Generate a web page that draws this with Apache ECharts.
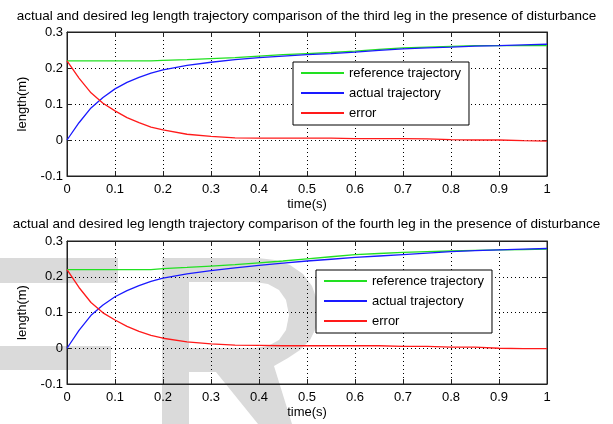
<!DOCTYPE html>
<html>
<head>
<meta charset="utf-8">
<script src="https://cdn.jsdelivr.net/npm/echarts@6/dist/echarts.min.js"></script>
<style>
  html, body { margin: 0; padding: 0; background: #fff; }
  #chart { width: 613px; height: 424px; }
</style>
</head>
<body>
<div id="chart"></div>
<script>
// Sample times (s)
const time = [0, 0.025, 0.05, 0.075, 0.1, 0.125, 0.15, 0.175, 0.2, 0.25, 0.3, 0.35, 0.4,
  0.45, 0.5, 0.55, 0.6, 0.65, 0.7, 0.75, 0.8, 0.85, 0.9, 0.95, 1.0];

// Third leg: reference, actual and error lengths (m)
const ref3 = [0.220, 0.220, 0.220, 0.220, 0.220, 0.220, 0.220, 0.220, 0.221, 0.223, 0.226, 0.229, 0.233,
  0.237, 0.240, 0.243, 0.247, 0.252, 0.256, 0.258, 0.260, 0.262, 0.262, 0.262, 0.262];
const act3 = [0.000, 0.048, 0.089, 0.118, 0.142, 0.160, 0.174, 0.186, 0.195, 0.207, 0.216, 0.223, 0.229,
  0.233, 0.237, 0.240, 0.244, 0.249, 0.253, 0.256, 0.258, 0.261, 0.262, 0.264, 0.266];
const err3 = [0.220, 0.172, 0.131, 0.102, 0.081, 0.062, 0.048, 0.036, 0.028, 0.016, 0.010, 0.006, 0.005,
  0.005, 0.005, 0.005, 0.004, 0.004, 0.004, 0.003, 0.001, 0.000, 0.000, -0.002, -0.003];

// Fourth leg: reference, actual and error lengths (m)
const ref4 = [0.220, 0.220, 0.220, 0.220, 0.220, 0.220, 0.220, 0.220, 0.223, 0.226, 0.230, 0.234, 0.239,
  0.244, 0.250, 0.256, 0.262, 0.265, 0.268, 0.270, 0.272, 0.274, 0.275, 0.276, 0.277];
const act4 = [0.000, 0.050, 0.092, 0.121, 0.144, 0.161, 0.175, 0.187, 0.196, 0.208, 0.217, 0.225, 0.232,
  0.238, 0.244, 0.249, 0.254, 0.258, 0.262, 0.266, 0.270, 0.273, 0.275, 0.277, 0.279];
const err4 = [0.220, 0.170, 0.128, 0.099, 0.079, 0.061, 0.047, 0.036, 0.028, 0.018, 0.012, 0.009, 0.008,
  0.007, 0.007, 0.007, 0.007, 0.007, 0.005, 0.005, 0.003, 0.003, 0.000, -0.001, -0.001];

// Tick labels
const xTicks = ['0', '0.1', '0.2', '0.3', '0.4', '0.5', '0.6', '0.7', '0.8', '0.9', '1'];
const yTicks = ['-0.1', '0', '0.1', '0.2', '0.3'];

const seriesNames = ['reference trajectory', 'actual trajectory', 'error'];
const seriesColors = ['#22e022', '#1a1aff', '#ff1a1a'];
const titles = [
  'actual and desired leg length trajectory comparison of the third leg in the presence of disturbance',
  'actual and desired leg length trajectory comparison of the fourth leg in the presence of disturbance'
];

const FONT = 'Liberation Sans';
const xMin = Number(xTicks[0]), xMax = Number(xTicks[xTicks.length - 1]);
const yMin = Number(yTicks[0]), yMax = Number(yTicks[yTicks.length - 1]);

const chart = echarts.init(document.getElementById('chart'), null, { renderer: 'canvas' });

function mainX(gridIndex) {
  return {
    type: 'value', gridIndex, min: xMin, max: xMax, interval: 0.1, z: 2,
    name: 'time(s)', nameLocation: 'middle', nameGap: 21,
    nameTextStyle: { fontFamily: FONT, fontSize: 13, color: '#000', lineHeight: 14 },
    axisLine: { show: true, onZero: false, lineStyle: { color: '#222', width: 1 } },
    axisTick: { show: true, inside: true, length: 5, lineStyle: { color: '#222' } },
    axisLabel: {
      margin: 6, fontFamily: FONT, fontSize: 13, color: '#000', lineHeight: 14,
      formatter: (v) => xTicks[Math.round((v - xMin) / 0.1)]
    },
    splitLine: { show: true, lineStyle: { color: '#000', type: [1, 3], width: 1 } }
  };
}
function mainY(gridIndex) {
  return {
    type: 'value', gridIndex, min: yMin, max: yMax, interval: 0.1, z: 2,
    name: 'length(m)', nameLocation: 'middle', nameGap: 33, nameRotate: 90,
    nameTextStyle: { fontFamily: FONT, fontSize: 13, color: '#000', lineHeight: 14 },
    axisLine: { show: true, onZero: false, lineStyle: { color: '#222', width: 1 } },
    axisTick: { show: true, inside: true, length: 5, lineStyle: { color: '#222' } },
    axisLabel: {
      margin: 4, fontFamily: FONT, fontSize: 13, color: '#000',
      formatter: (v) => yTicks[Math.round((v - yMin) / 0.1)]
    },
    splitLine: { show: true, lineStyle: { color: '#000', type: [1, 3], width: 1 } }
  };
}
// Mirrored axes for the box ticks on top and right
function mirrorX(gridIndex) {
  return {
    type: 'value', gridIndex, position: 'top', min: xMin, max: xMax, interval: 0.1, z: 2,
    axisLine: { show: true, onZero: false, lineStyle: { color: '#222' } },
    axisTick: { show: true, inside: true, length: 5, lineStyle: { color: '#222' } },
    axisLabel: { show: false }, splitLine: { show: false }
  };
}
function mirrorY(gridIndex) {
  return {
    type: 'value', gridIndex, position: 'right', min: yMin, max: yMax, interval: 0.1, z: 2,
    axisLine: { show: true, onZero: false, lineStyle: { color: '#222' } },
    axisTick: { show: true, inside: true, length: 5, lineStyle: { color: '#222' } },
    axisLabel: { show: false }, splitLine: { show: false }
  };
}

function lineSeries(name, values, color, axisIndex) {
  return {
    type: 'line', name, xAxisIndex: axisIndex, yAxisIndex: axisIndex,
    data: time.map((t, i) => [t, values[i]]),
    showSymbol: false, symbol: 'none', color,
    itemStyle: { color },
    lineStyle: { color, width: 1.3 },
    emphasis: { disabled: true }, z: 3
  };
}

function legendAt(left, top) {
  return {
    orient: 'vertical', left, top, padding: [1, 8, 2, 8], itemGap: 0, z: 5,
    itemWidth: 43, itemHeight: 2, icon: 'rect', selectedMode: false,
    backgroundColor: '#fff', borderColor: '#000', borderWidth: 1, borderRadius: 0,
    textStyle: { fontFamily: FONT, fontSize: 13, color: '#000', lineHeight: 20 },
    data: seriesNames
  };
}

// Light grey letters sitting behind the lower panel
const wmColor = '#dadada';
const watermark = [
  { type: 'rect', z: -100, shape: { x: 0, y: 258, width: 118, height: 25 }, style: { fill: wmColor } },
  { type: 'rect', z: -100, shape: { x: 0, y: 346, width: 111, height: 24 }, style: { fill: wmColor } },
  {
    type: 'polygon', z: -100,
    shape: { points: [[162, 258], [258, 258], [275, 260], [290, 265], [303, 274], [312, 286], [317, 300],
      [318, 314], [316, 328], [310, 340], [300, 350], [288, 358], [274, 366], [292, 424], [258, 424],
      [216, 372], [189, 372], [189, 424], [162, 424]] },
    style: { fill: wmColor }
  },
  {
    type: 'polygon', z: -99,
    shape: { points: [[189, 282], [255, 282], [268, 284], [279, 290], [286, 300], [289, 315], [286, 330],
      [279, 340], [268, 346], [255, 348], [189, 348]] },
    style: { fill: '#fff' }
  }
];

const option = {
  animation: false,
  backgroundColor: '#fff',
  textStyle: { fontFamily: FONT },
  title: [
    { text: titles[0], left: 'center', top: 8, padding: 0,
      textStyle: { fontFamily: FONT, fontSize: 13.5, fontWeight: 'normal', color: '#000', lineHeight: 16 } },
    { text: titles[1], left: 'center', top: 216, padding: 0,
      textStyle: { fontFamily: FONT, fontSize: 13.5, fontWeight: 'normal', color: '#000', lineHeight: 16 } }
  ],
  grid: [
    { left: 67, top: 32, width: 480, height: 144, show: true, z: 2, borderColor: '#222', borderWidth: 1, backgroundColor: 'transparent' },
    { left: 67, top: 241, width: 480, height: 143, show: true, z: 2, borderColor: '#222', borderWidth: 1, backgroundColor: 'transparent' }
  ],
  xAxis: [mainX(0), mainX(1), mirrorX(0), mirrorX(1)],
  yAxis: [mainY(0), mainY(1), mirrorY(0), mirrorY(1)],
  legend: [legendAt(293, 62), legendAt(316, 270)],
  graphic: { z: -100, elements: watermark },
  series: [
    lineSeries(seriesNames[0], ref3, seriesColors[0], 0),
    lineSeries(seriesNames[1], act3, seriesColors[1], 0),
    lineSeries(seriesNames[2], err3, seriesColors[2], 0),
    lineSeries(seriesNames[0], ref4, seriesColors[0], 1),
    lineSeries(seriesNames[1], act4, seriesColors[1], 1),
    lineSeries(seriesNames[2], err4, seriesColors[2], 1)
  ]
};

chart.setOption(option);
</script>
</body>
</html>
